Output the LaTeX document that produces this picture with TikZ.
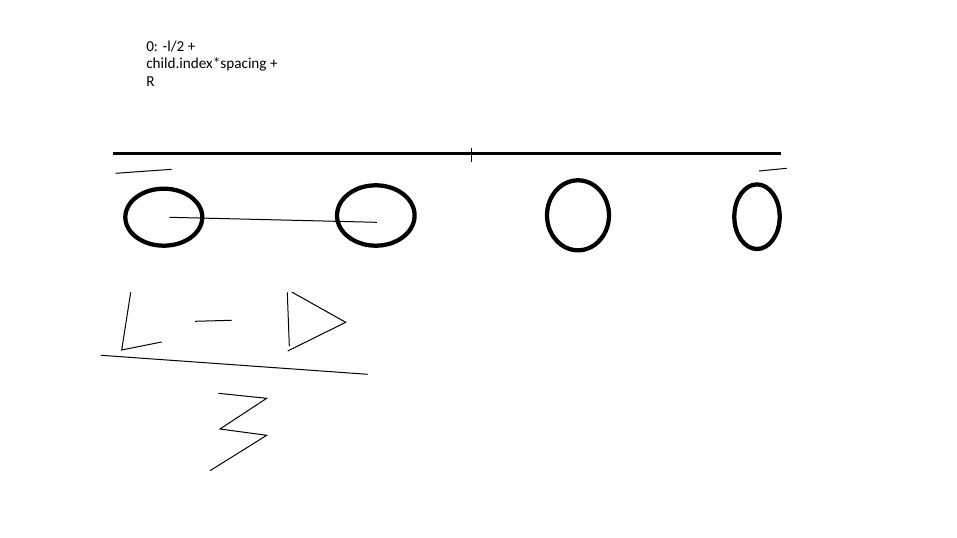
\documentclass[tikz,border=0pt]{standalone}
\usepackage{fontspec}
\setmainfont{Carlito}
\usepackage{tikz}

\begin{document}
\begin{tikzpicture}[x=0.75pt,y=-0.75pt,
        pen/.style={line width=0.75pt},
        bold/.style={line width=2.4pt},
        ring/.style={line width=3.2pt}]
            \useasboundingbox (0,0) rectangle (957,538);
            % formula note
            \node[anchor=north west,inner sep=0pt,align=left,font=\fontsize{11.4pt}{13.4pt}\selectfont] (note) at (146,40.3)
                {0: -l/2 +\\child.index*spacing +\\R};
            % parent bar with middle tick
            \coordinate (barL) at (112.5,153.3);
            \coordinate (barR) at (780.5,153.3);
            \draw[bold] (barL) -- (barR);
            \draw[pen] (471.7,148.3) -- (471.7,161.7);
            \draw[pen] (115.7,173.3) -- (171.7,169.3);
            \draw[pen] (759,171) -- (786.7,168.3);
            % children
            \coordinate (c0) at (163.8,217.2);
            \coordinate (c1) at (375.8,215.5);
            \coordinate (c2) at (578,215.3);
            \coordinate (c3) at (757,216.7);
            \draw[ring] (c0) ellipse [x radius=38.5, y radius=28.5];
            \draw[ring] (c1) ellipse [x radius=38.8, y radius=30.2];
            \draw[ring] (c2) ellipse [x radius=31, y radius=35];
            \draw[ring] (c3) ellipse [x radius=22.7, y radius=32.3];
            \draw[pen] ([shift={(5.5,0.1)}]c0) -- ([shift={(1,6.8)}]c1);
            % L - D over 3
            \begin{scope}
                \draw[pen] (130.7,292.3) -- (121.7,350) -- (161.7,342);
                \draw[pen] (195,321.3) -- (231.7,320.3);
                \draw[pen] (287.3,292.3) -- (289.3,346);
                \draw[pen] (291.7,292) -- (345.7,322.3) -- (287.7,351);
                \draw[pen] (101,355.3) -- (367.7,374.3);
                \draw[pen] (218.3,393.3) -- (266.7,398.3) -- (220,429) -- (266.7,435.3) -- (210,470.7);
            \end{scope}
        \end{tikzpicture}
\end{document}
